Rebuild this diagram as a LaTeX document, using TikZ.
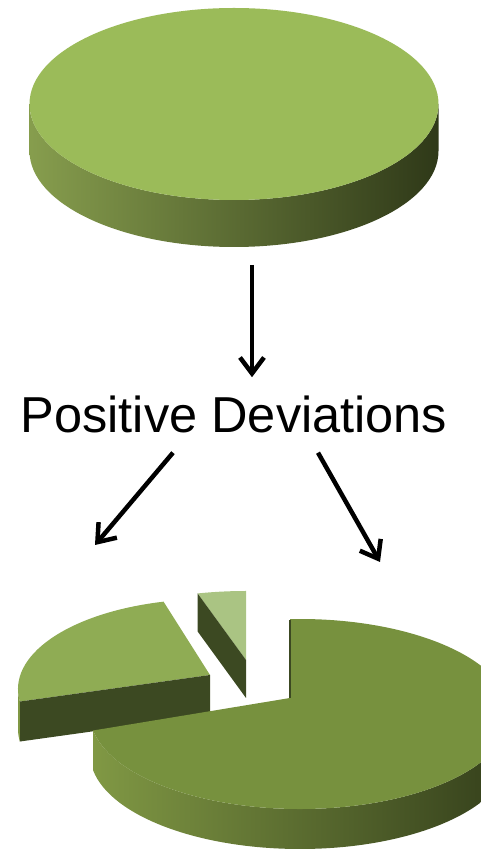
\documentclass[tikz,border=0pt]{standalone}
\usepackage{fontspec}
\setmainfont{Liberation Sans}
\usepackage{xcolor}
\usepackage{tikz}
\usetikzlibrary{arrows.meta, positioning}
\definecolor{oliveDisque}{RGB}{155, 187, 89}
\definecolor{oliveGrand}{RGB}{119, 145, 62}
\definecolor{oliveMoyen}{RGB}{143, 172, 84}
\definecolor{oliveClair}{RGB}{170, 196, 131}
\definecolor{oliveFonce}{RGB}{60, 73, 34}
\definecolor{flancClair}{RGB}{128, 152, 68}
\definecolor{flancFonce}{RGB}{52, 63, 27}

\begin{document}
\begin{tikzpicture}[x=1pt, y=1pt,
  flanc/.style={left color=flancClair, right color=flancFonce, shading angle=90},
  coupe/.style={fill=oliveFonce},
  arr/.style={-{Straight Barb[length=16pt, width=24pt]}, line width=4.5pt},
  lbl/.style={font=\fontsize{50.5pt}{60pt}\selectfont, inner ysep=19pt, inner xsep=0pt},
]
\useasboundingbox (0,0) rectangle (480,852);
\coordinate (cDisque) at (234, 748);
\coordinate (vGrand)  at (290, 154);
\coordinate (cGrand)  at (300, 138);
\coordinate (vMoyen)  at (210, 177);
\coordinate (cMoyen)  at (210, 163);
\coordinate (vPetit)  at (246, 192);
\coordinate (cPetit)  at (246, 178);
\path (cDisque) ++(180:204.5pt and 96pt) coordinate (dG);
\path (cGrand) ++(190:210pt and 95pt) coordinate (gG);
\path (cMoyen) ++(188:192pt and 90pt) coordinate (mG);
\path (cPetit) ++(104:200pt and 83pt) coordinate (pG);

\shade[left color=flancClair!95!white, right color=flancFonce!90!black]
  (dG) arc[start angle=180, end angle=360, x radius=204.5pt, y radius=96pt]
  -- ++(0,-47pt) arc[start angle=360, end angle=180, x radius=204.5pt, y radius=96pt]
  -- cycle;
\fill[oliveDisque] (cDisque) ellipse[x radius=204.5pt, y radius=96pt];

\fill[oliveClair] (vPetit) -- (pG)
  arc[start angle=104, end angle=90, x radius=200pt, y radius=83pt] -- cycle;
\fill[coupe] (vPetit) -- (pG) -- ++(0,-38pt) -- ([yshift=-38pt]vPetit) -- cycle;

\fill[oliveMoyen] (vMoyen) -- (mG)
  arc[start angle=188, end angle=104, x radius=192pt, y radius=90pt] -- cycle;
\fill[coupe] (vMoyen) -- (mG) -- ++(0,-40pt) -- ([yshift=-40pt]vMoyen) -- cycle;
\fill[flancClair] (mG) arc[start angle=188, end angle=180, x radius=192pt, y radius=90pt]
  -- ++(0,-40pt) arc[start angle=180, end angle=188, x radius=192pt, y radius=90pt] -- cycle;

\shade[flanc] (gG)
  arc[start angle=190, end angle=360, x radius=210pt, y radius=95pt]
  -- ++(0,-40pt) arc[start angle=360, end angle=190, x radius=210pt, y radius=95pt]
  -- cycle;
\fill[oliveGrand] (vGrand) -- (gG)
  arc[start angle=190, end angle=452.7, x radius=210pt, y radius=95pt] -- cycle;
\draw[oliveFonce, line width=1.5pt] (vGrand) -- ++(0,78pt);

\node[lbl] (dev) at (234, 419) [anchor=base] {Positive Deviations};
\coordinate (sortieDisque) at (252, 587);
\coordinate (versGauche)   at (95, 307);
\coordinate (versDroite)   at (380, 290);
\draw[arr] (sortieDisque) -- (sortieDisque |- dev.north);
\draw[arr] ([xshift=-61pt]dev.south) -- (versGauche);
\draw[arr] ([xshift=84pt]dev.south) -- (versDroite);
\end{tikzpicture}
\end{document}
